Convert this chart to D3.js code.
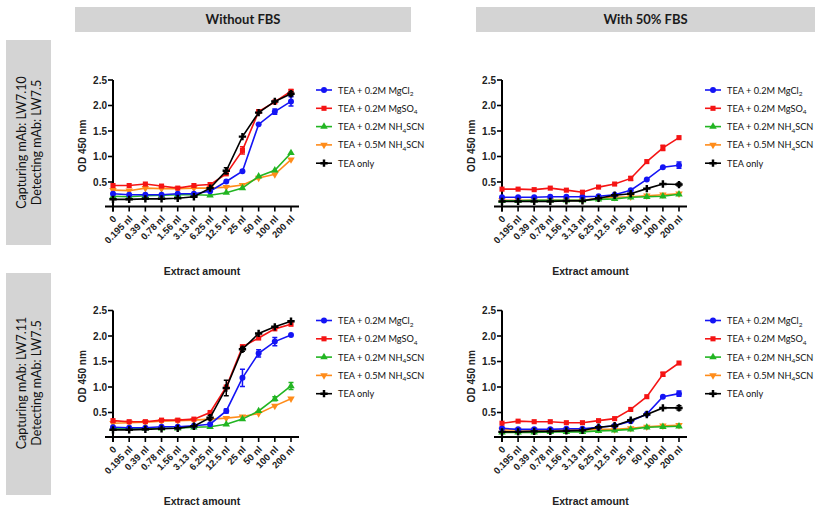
<!DOCTYPE html>
<html>
<head>
<meta charset="utf-8">
<script src="https://cdn.jsdelivr.net/npm/d3@7"></script>
<style>
body { margin: 0; background: #fff; }
</style>
</head>
<body>
<script>
// x categories (extract amount)
var categories = ["0", "0.195 nl", "0.39 nl", "0.78 nl", "1.56 nl", "3.13 nl", "6.25 nl", "12.5 nl", "25 nl", "50 nl", "100 nl", "200 nl"];
var yTicks = [0.5, 1.0, 1.5, 2.0, 2.5];

// series order: MgCl2, MgSO4, 0.2M NH4SCN, 0.5M NH4SCN, TEA only
var labelPre = ["TEA + 0.2M MgCl", "TEA + 0.2M MgSO", "TEA + 0.2M NH", "TEA + 0.5M NH", "TEA only"];
var labelSub = ["2", "4", "4", "4", ""];
var labelPost = ["", "", "SCN", "SCN", ""];

var colHeaders = ["Without FBS", "With 50% FBS"];
var rowLine1 = ["Capturing mAb: LW7.10", "Capturing mAb: LW7.11"];
var rowLine2 = ["Detecting mAb: LW7.5", "Detecting mAb: LW7.5"];

// LW7.10, without FBS
var lw710_noFbs = [
    [0.27, 0.25, 0.25, 0.25, 0.27, 0.27, 0.32, 0.51, 0.71, 1.63, 1.88, 2.08],
    [0.43, 0.43, 0.46, 0.42, 0.38, 0.43, 0.45, 0.66, 1.12, 1.88, 2.07, 2.28],
    [0.22, 0.21, 0.23, 0.24, 0.25, 0.25, 0.24, 0.29, 0.38, 0.61, 0.73, 1.07],
    [0.34, 0.33, 0.38, 0.37, 0.37, 0.38, 0.38, 0.40, 0.44, 0.58, 0.65, 0.94],
    [0.16, 0.16, 0.17, 0.17, 0.18, 0.21, 0.38, 0.72, 1.39, 1.86, 2.08, 2.23]
];
var lw710_noFbs_err = [
    [0, 0, 0, 0, 0, 0, 0, 0, 0, 0, 0.05, 0.09],
    [0, 0, 0, 0, 0, 0, 0, 0, 0.07, 0.03, 0, 0.03],
    [0, 0, 0, 0, 0, 0, 0, 0, 0, 0, 0, 0],
    [0, 0, 0, 0, 0, 0, 0, 0, 0, 0, 0, 0],
    [0, 0, 0, 0, 0, 0, 0, 0.06, 0, 0, 0, 0.04]
];

// LW7.10, with 50% FBS
var lw710_fbs = [
    [0.20, 0.20, 0.20, 0.21, 0.21, 0.21, 0.22, 0.25, 0.34, 0.55, 0.79, 0.83],
    [0.36, 0.36, 0.35, 0.38, 0.34, 0.30, 0.40, 0.46, 0.57, 0.90, 1.17, 1.37],
    [0.13, 0.13, 0.14, 0.14, 0.14, 0.14, 0.16, 0.17, 0.20, 0.21, 0.22, 0.26],
    [0.14, 0.14, 0.14, 0.14, 0.14, 0.14, 0.18, 0.20, 0.21, 0.23, 0.25, 0.27],
    [0.12, 0.12, 0.12, 0.12, 0.13, 0.13, 0.18, 0.24, 0.27, 0.37, 0.46, 0.45]
];
var lw710_fbs_err = [
    [0, 0, 0, 0, 0, 0, 0, 0, 0, 0, 0, 0.06],
    [0, 0, 0, 0, 0, 0, 0, 0, 0.04, 0, 0.05, 0],
    [0, 0, 0, 0, 0, 0, 0, 0, 0, 0, 0, 0],
    [0, 0, 0, 0, 0, 0, 0, 0, 0, 0, 0, 0],
    [0, 0, 0, 0, 0, 0, 0, 0, 0, 0, 0, 0.03]
];

// LW7.11, without FBS
var lw711_noFbs = [
    [0.21, 0.20, 0.20, 0.22, 0.22, 0.24, 0.27, 0.53, 1.18, 1.66, 1.89, 2.02],
    [0.34, 0.32, 0.32, 0.35, 0.35, 0.37, 0.50, 1.00, 1.79, 1.96, 2.14, 2.23],
    [0.19, 0.18, 0.19, 0.19, 0.19, 0.21, 0.22, 0.27, 0.37, 0.53, 0.77, 1.02],
    [0.29, 0.30, 0.31, 0.33, 0.34, 0.35, 0.37, 0.39, 0.42, 0.48, 0.63, 0.77],
    [0.16, 0.16, 0.17, 0.18, 0.19, 0.23, 0.40, 0.98, 1.74, 2.05, 2.18, 2.29]
];
var lw711_noFbs_err = [
    [0, 0, 0, 0, 0, 0, 0, 0.04, 0.17, 0.07, 0.08, 0],
    [0, 0, 0, 0, 0, 0, 0, 0, 0.03, 0, 0, 0],
    [0, 0, 0, 0, 0, 0, 0, 0, 0, 0, 0.04, 0.07],
    [0, 0, 0, 0, 0, 0, 0, 0, 0, 0, 0, 0],
    [0, 0, 0, 0, 0, 0, 0.04, 0.15, 0.04, 0, 0, 0]
];

// LW7.11, with 50% FBS
var lw711_fbs = [
    [0.19, 0.17, 0.17, 0.17, 0.18, 0.18, 0.21, 0.24, 0.33, 0.47, 0.81, 0.87],
    [0.29, 0.33, 0.32, 0.32, 0.30, 0.30, 0.34, 0.38, 0.56, 0.81, 1.25, 1.47],
    [0.11, 0.11, 0.11, 0.12, 0.12, 0.12, 0.14, 0.15, 0.17, 0.21, 0.22, 0.23],
    [0.16, 0.16, 0.16, 0.16, 0.16, 0.16, 0.17, 0.17, 0.19, 0.22, 0.24, 0.25],
    [0.12, 0.12, 0.13, 0.13, 0.14, 0.15, 0.21, 0.24, 0.35, 0.46, 0.59, 0.59]
];
var lw711_fbs_err = [
    [0, 0, 0, 0, 0, 0, 0, 0, 0, 0, 0, 0.05],
    [0, 0, 0, 0, 0, 0, 0, 0, 0, 0, 0.04, 0],
    [0, 0, 0, 0, 0, 0, 0, 0, 0, 0, 0, 0],
    [0, 0, 0, 0, 0, 0, 0, 0, 0, 0, 0, 0],
    [0, 0, 0, 0, 0, 0, 0, 0, 0, 0, 0, 0.04]
];

var colors = ["#1414f5", "#f51414", "#22b522", "#ff8c1a", "#000000"];
var symbols = [d3.symbolCircle, d3.symbolSquare, d3.symbolTriangle, d3.symbolTriangle, d3.symbolCross];
var symRotate = [0, 0, 0, 180, 0];
var symSize = [28, 26, 24, 24, 30];
var drawOrder = [3, 2, 0, 1, 4];

var w = 819, h = 510;
var svg = d3.select("body").append("svg")
    .attr("width", w)
    .attr("height", h);

var txtFont = "Lato, 'Open Sans', sans-serif";
var axFont = "'Liberation Sans', Arial, sans-serif";

// column headers
var headerBoxes = [[75, 336], [476, 339]];
headerBoxes.forEach(function (b, i) {
    svg.append("rect")
        .attr("x", b[0]).attr("y", 7)
        .attr("width", b[1]).attr("height", 25)
        .attr("fill", "#d4d4d4");
    svg.append("text")
        .attr("x", b[0] + b[1] / 2).attr("y", 24)
        .attr("text-anchor", "middle")
        .style("font-family", txtFont)
        .style("font-size", "13px")
        .style("font-weight", "bold")
        .attr("fill", "#1a1a1a")
        .text(colHeaders[i]);
});

// row labels
var rowBoxes = [[40, 205], [273, 222]];
rowBoxes.forEach(function (b, i) {
    svg.append("rect")
        .attr("x", 6).attr("y", b[0])
        .attr("width", 45).attr("height", b[1])
        .attr("fill", "#d4d4d4");
    var cy = b[0] + b[1] / 2 + (i == 0 ? 0 : -1);
    [[rowLine1[i], 21], [rowLine2[i], 36]].forEach(function (l) {
        svg.append("text")
            .attr("transform", "translate(" + l[1] + "," + cy + ") rotate(-90)")
            .attr("text-anchor", "middle")
            .attr("dominant-baseline", "central")
            .style("font-family", txtFont)
            .style("font-size", "12.5px")
            .attr("fill", "#111")
            .text(l[0]);
    });
});

function drawPanel(x0, x1, yTop, values, errs) {
    var x = d3.scalePoint().domain(categories).range([x0, x1]);
    var y = d3.scaleLinear().domain([0, 2.5]).range([yTop + 127.5, yTop]);
    var g = svg.append("g");
    var y0 = y(0) - 1;

    // y axis
    g.append("line")
        .attr("x1", x0).attr("x2", x0)
        .attr("y1", y(2.5)).attr("y2", y0 + 5)
        .attr("stroke", "#000").attr("stroke-width", 2);
    yTicks.forEach(function (t) {
        g.append("line")
            .attr("x1", x0 - 5).attr("x2", x0)
            .attr("y1", y(t)).attr("y2", y(t))
            .attr("stroke", "#000").attr("stroke-width", 1.6);
        g.append("text")
            .attr("x", x0 - 6).attr("y", y(t) + 3.5)
            .attr("text-anchor", "end")
            .style("font-family", axFont)
            .style("font-size", "10px")
            .style("font-weight", "bold")
            .attr("fill", "#222")
            .text(t.toFixed(1));
    });
    g.append("text")
        .attr("transform", "translate(" + (x0 - 27) + "," + (y(1.25) + 2) + ") rotate(-90)")
        .attr("text-anchor", "middle")
        .style("font-family", axFont)
        .style("font-size", "10px")
        .style("font-weight", "bold")
        .attr("fill", "#222")
        .text("OD 450 nm");

    // x axis
    g.append("line")
        .attr("x1", x0 - 8).attr("x2", x1 + 8)
        .attr("y1", y0).attr("y2", y0)
        .attr("stroke", "#000").attr("stroke-width", 2);
    categories.forEach(function (c) {
        g.append("line")
            .attr("x1", x(c)).attr("x2", x(c))
            .attr("y1", y0).attr("y2", y0 + 5)
            .attr("stroke", "#000").attr("stroke-width", 1.6);
        g.append("text")
            .attr("transform", "translate(" + (x(c) + 4) + "," + (y0 + 13) + ") rotate(-45)")
            .attr("text-anchor", "end")
            .style("font-family", axFont)
            .style("font-size", "9.5px")
            .style("font-weight", "bold")
            .attr("fill", "#222")
            .text(c);
    });
    g.append("text")
        .attr("x", (x0 + x1) / 2).attr("y", y0 + 68)
        .attr("text-anchor", "middle")
        .style("font-family", axFont)
        .style("font-size", "10.5px")
        .style("font-weight", "bold")
        .attr("fill", "#222")
        .text("Extract amount");

    var line = d3.line()
        .x(function (d, i) { return x(categories[i]); })
        .y(function (d) { return y(d); });

    drawOrder.forEach(function (s) {
        var col = colors[s];
        var sg = g.append("g");
        sg.append("path")
            .attr("d", line(values[s]))
            .attr("fill", "none")
            .attr("stroke", col)
            .attr("stroke-width", 1.6);
        values[s].forEach(function (v, i) {
            var e = errs[s][i];
            if (e > 0) {
                var cx = x(categories[i]);
                sg.append("path")
                    .attr("d", "M" + cx + "," + y(v - e) + "V" + y(v + e) +
                        "M" + (cx - 2.5) + "," + y(v + e) + "H" + (cx + 2.5) +
                        "M" + (cx - 2.5) + "," + y(v - e) + "H" + (cx + 2.5))
                    .attr("stroke", col)
                    .attr("stroke-width", 1.5)
                    .attr("fill", "none");
            }
        });
        sg.selectAll("path.pt")
            .data(values[s]).enter()
            .append("path")
            .attr("class", "pt")
            .attr("d", d3.symbol().type(symbols[s]).size(symSize[s]))
            .attr("transform", function (d, i) {
                return "translate(" + x(categories[i]) + "," + y(d) + ") rotate(" + symRotate[s] + ")";
            })
            .attr("fill", col);
    });
}

function drawLegend(lx, ly) {
    var g = svg.append("g");
    labelPre.forEach(function (p, i) {
        var yy = ly + i * 18.3;
        g.append("line")
            .attr("x1", lx).attr("x2", lx + 16)
            .attr("y1", yy).attr("y2", yy)
            .attr("stroke", colors[i]).attr("stroke-width", 1.6);
        g.append("path")
            .attr("d", d3.symbol().type(symbols[i]).size(symSize[i]))
            .attr("transform", "translate(" + (lx + 8) + "," + yy + ") rotate(" + symRotate[i] + ")")
            .attr("fill", colors[i]);
        var t = g.append("text")
            .attr("x", lx + 22).attr("y", yy + 3.5)
            .style("font-family", txtFont)
            .style("font-size", "9.2px")
            .attr("fill", "#111");
        t.append("tspan").text(p);
        if (labelSub[i]) {
            t.append("tspan").attr("dy", 2.5).style("font-size", "6.5px").text(labelSub[i]);
            if (labelPost[i]) t.append("tspan").attr("dy", -2.5).text(labelPost[i]);
        }
    });
}

drawPanel(113, 291, 80, lw710_noFbs, lw710_noFbs_err);
drawPanel(502, 679, 80, lw710_fbs, lw710_fbs_err);
drawPanel(113, 291, 310.5, lw711_noFbs, lw711_noFbs_err);
drawPanel(502, 679, 310.5, lw711_fbs, lw711_fbs_err);

drawLegend(316, 90);
drawLegend(705, 90);
drawLegend(316, 320.5);
drawLegend(705, 320.5);
</script>
</body>
</html>
